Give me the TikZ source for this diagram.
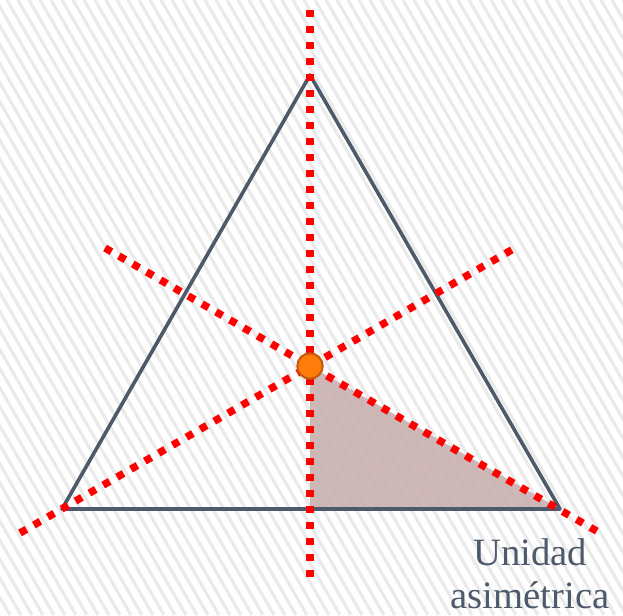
\documentclass[tikz,border=0pt]{standalone}
\usepackage{fontspec}
\setmainfont{Liberation Serif}
\definecolor{rojoeje}{RGB}{255,0,0}
\definecolor{lado}{RGB}{77,90,107}
\definecolor{unidad}{RGB}{201,177,177}
\definecolor{punto}{RGB}{255,124,10}
\definecolor{bordepunto}{RGB}{197,90,17}
\definecolor{rayado}{RGB}{234,234,234}
\tikzset{
  eje/.style={rojoeje,line width=5.6pt,dash pattern=on 5.6pt off 6.4pt},
  lados/.style={lado,line width=2.7pt,line join=round},
  centro/.style={circle,fill=punto,draw=bordepunto,line width=1.6pt,minimum size=19pt,inner sep=0pt}
}

\begin{document}
\begin{tikzpicture}[x=0.75pt,y=-0.75pt]
                    \useasboundingbox(0,0)rectangle(623,615);
                    % fondo rayado
                    \begin{scope}
                    \clip(0,0)rectangle(623,615);
                    \foreach \i in {-400,-389,...,623}
                        \draw[rayado,line width=2.4pt](\i,0)--++(355,615);
                    \end{scope}
                    \coordinate(A)at(310,75);
                    \coordinate(B)at(62,509);
                    \coordinate(C)at(560,509);
                    \coordinate(M)at(310,509);
                    \coordinate(O)at(310,366);
                    \coordinate(V1)at(310,10);
                    \coordinate(V2)at(310,578);
                    \coordinate(D1)at(20,533);
                    \coordinate(D2)at(515,248);
                    \coordinate(E1)at(105,248);
                    \coordinate(E2)at(600,533);
                    \fill[unidad,opacity=.92](O)--(M)--(C)--cycle;
                    \draw[lados](A)--(B)--(C)--cycle;
                    \draw[eje](V1)--(V2);
                    \draw[eje](D1)--(D2);
                    \draw[eje](E1)--(E2);
                    \node[centro](P)at(O){};
                    \node[align=center,text=lado,inner sep=0pt,font=\fontsize{29}{32}\selectfont](texto)at(530,574){Unidad\\asimétrica};
                \end{tikzpicture}
\end{document}
